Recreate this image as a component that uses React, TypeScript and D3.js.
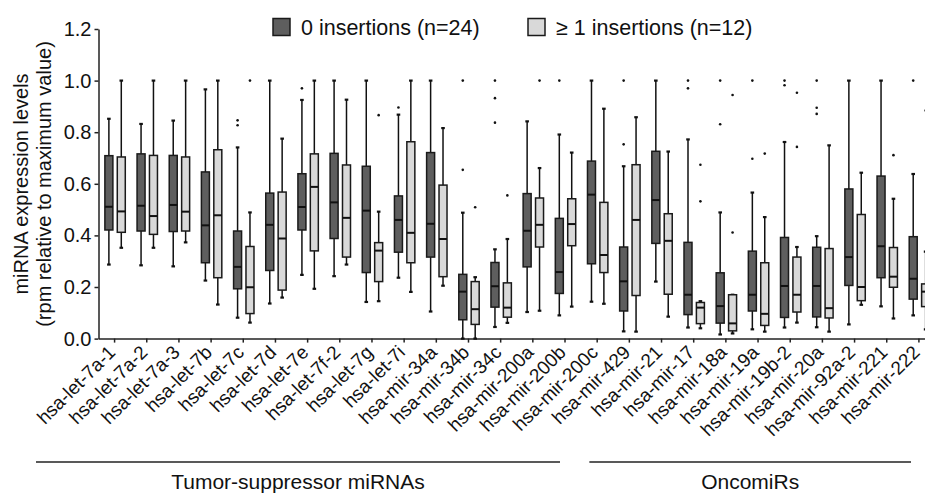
import * as d3 from 'd3';
import { useEffect, useRef } from 'react';

const categories = [
  'hsa-let-7a-1', 'hsa-let-7a-2', 'hsa-let-7a-3', 'hsa-let-7b', 'hsa-let-7c', 'hsa-let-7d',
  'hsa-let-7e', 'hsa-let-7f-2', 'hsa-let-7g', 'hsa-let-7i', 'hsa-mir-34a', 'hsa-mir-34b',
  'hsa-mir-34c', 'hsa-mir-200a', 'hsa-mir-200b', 'hsa-mir-200c', 'hsa-mir-429', 'hsa-mir-21',
  'hsa-mir-17', 'hsa-mir-18a', 'hsa-mir-19a', 'hsa-mir-19b-2', 'hsa-mir-20a', 'hsa-mir-92a-2',
  'hsa-mir-221', 'hsa-mir-222',
];

const yTicks = [0, 0.2, 0.4, 0.6, 0.8, 1.0, 1.2];

// 0 insertions (n=24)
const zeroMin = [0.287, 0.284, 0.280, 0.225, 0.081, 0.136, 0.247, 0.242, 0.142, 0.236, 0.105, 0.0, 0.045, 0.103, 0.090, 0.143, 0.028, 0.221, 0.043, 0.016, 0.036, 0.043, 0.044, 0.055, 0.125, 0.090];
const zeroQ1 = [0.421, 0.417, 0.415, 0.294, 0.193, 0.264, 0.421, 0.388, 0.256, 0.335, 0.316, 0.073, 0.122, 0.278, 0.175, 0.290, 0.107, 0.369, 0.093, 0.060, 0.107, 0.082, 0.084, 0.206, 0.236, 0.153];
const zeroMedian = [0.511, 0.515, 0.518, 0.439, 0.278, 0.441, 0.510, 0.528, 0.496, 0.460, 0.445, 0.182, 0.203, 0.418, 0.258, 0.558, 0.222, 0.537, 0.170, 0.126, 0.170, 0.204, 0.204, 0.316, 0.358, 0.232];
const zeroQ3 = [0.709, 0.716, 0.710, 0.646, 0.417, 0.564, 0.639, 0.718, 0.668, 0.553, 0.721, 0.249, 0.295, 0.562, 0.466, 0.688, 0.355, 0.726, 0.373, 0.255, 0.339, 0.392, 0.354, 0.580, 0.630, 0.395];
const zeroMax = [0.852, 0.832, 0.845, 0.966, 0.741, 1.0, 0.925, 1.0, 1.0, 0.868, 1.0, 0.488, 0.346, 0.842, 0.791, 1.0, 0.668, 1.0, 0.772, 0.489, 0.566, 0.762, 0.397, 1.0, 1.0, 0.638];
const zeroOutliers = [[], [], [], [], [0.846, 0.827], [], [0.970], [], [], [0.896], [], [1.0, 0.654], [1.0, 0.932, 0.837], [], [1.0], [], [1.0, 0.753], [], [1.0, 0.970], [1.0, 0.831], [1.0, 0.697], [1.0, 0.982], [1.0, 0.895, 0.871], [], [], [1.0]];

// >= 1 insertions (n=12)
const oneMin = [0.352, 0.352, 0.373, 0.132, 0.062, 0.159, 0.193, 0.287, 0.145, 0.181, 0.205, 0.0, 0.061, 0.108, 0.124, 0.135, 0.027, 0.085, 0.040, 0.020, 0.027, 0.062, 0.027, 0.131, 0.078, 0.036];
const oneQ1 = [0.412, 0.404, 0.417, 0.236, 0.097, 0.188, 0.340, 0.316, 0.221, 0.294, 0.240, 0.055, 0.083, 0.355, 0.360, 0.256, 0.167, 0.172, 0.058, 0.030, 0.051, 0.103, 0.080, 0.147, 0.199, 0.124];
const oneMedian = [0.493, 0.475, 0.492, 0.478, 0.199, 0.388, 0.588, 0.468, 0.341, 0.410, 0.386, 0.114, 0.120, 0.441, 0.444, 0.324, 0.460, 0.379, 0.120, 0.059, 0.096, 0.170, 0.118, 0.200, 0.240, 0.182];
const oneQ3 = [0.704, 0.710, 0.704, 0.732, 0.357, 0.568, 0.716, 0.673, 0.372, 0.763, 0.595, 0.221, 0.216, 0.545, 0.542, 0.528, 0.674, 0.484, 0.140, 0.170, 0.294, 0.316, 0.349, 0.481, 0.353, 0.212];
const oneMax = [1.0, 1.0, 1.0, 1.0, 0.489, 0.775, 1.0, 0.926, 0.492, 1.0, 0.816, 0.238, 0.386, 0.661, 0.721, 0.891, 0.858, 0.725, 0.145, 0.170, 0.471, 0.355, 0.749, 0.643, 0.542, 0.337];
const oneOutliers = [[], [], [], [], [1.0], [], [], [], [0.866], [], [], [0.509], [0.555], [1.0], [], [], [], [], [0.674, 0.532], [0.944, 0.411], [0.717], [0.953, 0.743], [], [], [0.711], [0.884]];

const groupNames = ['Tumor-suppressor miRNAs', 'OncomiRs'];
const groupFirst = ['hsa-let-7a-1', 'hsa-mir-429'];
const groupLast = ['hsa-mir-200b', 'hsa-mir-222'];

const FONT = 'Arial, "Liberation Sans", sans-serif';

const App = () => {
  const graphRef = useRef<SVGSVGElement>(null);

  useEffect(() => {
    const svg = d3.select(graphRef.current);
    svg.selectAll('*').remove();

    const x0 = 98.5;
    const y0 = 338.6;

    // scales
    const xScale = d3.scaleBand().domain(categories).range([x0, 935]);
    const yScale = d3.scaleLinear().domain([0, 1.2]).range([y0, 29]);
    const step = xScale.bandwidth();
    const center = (c: string) => (xScale(c) as number) + step / 2;

    // axes
    const yAxis = svg.append('g')
      .attr('transform', `translate(${x0}, 0)`)
      .call(d3.axisLeft(yScale).tickValues(yTicks).tickFormat(d3.format('.1f')).tickSize(4).tickSizeOuter(0));
    yAxis.select('.domain').attr('stroke', '#222').attr('stroke-width', 1.5);
    yAxis.selectAll('.tick line').attr('stroke', '#222').attr('stroke-width', 1.5);
    yAxis.selectAll('.tick text')
      .attr('font-family', FONT).attr('font-size', 20).attr('fill', '#111').attr('x', -7);

    const xAxis = svg.append('g')
      .attr('transform', `translate(0, ${y0})`)
      .call(d3.axisBottom(xScale).tickSize(4).tickSizeOuter(0));
    xAxis.select('.domain').attr('stroke', '#222').attr('stroke-width', 1.5);
    xAxis.selectAll('.tick line').attr('stroke', '#222').attr('stroke-width', 1.5);
    xAxis.selectAll('.tick text')
      .attr('font-family', FONT).attr('font-size', 19).attr('fill', '#111')
      .attr('text-anchor', 'end')
      .attr('x', null).attr('y', null).attr('dy', null)
      .attr('transform', 'translate(2, 15) rotate(-45)');

    // boxes
    const series = [
      { min: zeroMin, q1: zeroQ1, med: zeroMedian, q3: zeroQ3, max: zeroMax, out: zeroOutliers, fill: '#5e5e5e', offset: -5.7 },
      { min: oneMin, q1: oneQ1, med: oneMedian, q3: oneQ3, max: oneMax, out: oneOutliers, fill: '#d9d9d9', offset: 6.7 },
    ];
    const boxW = 8;

    series.forEach(s => {
      const g = svg.append('g');
      categories.forEach((c, i) => {
        const cx = center(c) + s.offset;
        // whisker
        g.append('line')
          .attr('x1', cx).attr('x2', cx)
          .attr('y1', yScale(s.min[i])).attr('y2', yScale(s.max[i]))
          .attr('stroke', '#111').attr('stroke-width', 1.5);
        [s.min[i], s.max[i]].forEach(v => {
          g.append('line')
            .attr('x1', cx - 1.8).attr('x2', cx + 1.8)
            .attr('y1', yScale(v)).attr('y2', yScale(v))
            .attr('stroke', '#111').attr('stroke-width', 2.2);
        });
        g.append('rect')
          .attr('x', cx - boxW / 2).attr('width', boxW)
          .attr('y', yScale(s.q3[i])).attr('height', yScale(s.q1[i]) - yScale(s.q3[i]))
          .attr('fill', s.fill).attr('stroke', '#1a1a1a').attr('stroke-width', 1.5);
        g.append('line')
          .attr('x1', cx - boxW / 2).attr('x2', cx + boxW / 2)
          .attr('y1', yScale(s.med[i])).attr('y2', yScale(s.med[i]))
          .attr('stroke', '#111').attr('stroke-width', 2);
        s.out[i].forEach(v => {
          g.append('circle')
            .attr('cx', cx).attr('cy', yScale(v)).attr('r', 1.3).attr('fill', '#111');
        });
      });
    });

    // axis title
    const title = svg.append('text')
      .attr('transform', 'translate(0, 184) rotate(-90)')
      .attr('text-anchor', 'middle')
      .attr('font-family', FONT).attr('font-size', 20).attr('fill', '#111');
    title.append('tspan').attr('x', 0).attr('y', 28).text('miRNA expression levels');
    title.append('tspan').attr('x', 0).attr('y', 51).text('(rpm relative to maximum value)');

    // legend
    const legend = [
      { label: '0 insertions (n=24)', fill: '#5e5e5e', x: 273 },
      { label: '\u2265 1 insertions (n=12)', fill: '#d9d9d9', x: 528 },
    ];
    legend.forEach(l => {
      svg.append('rect').attr('x', l.x).attr('y', 18.5).attr('width', 17).attr('height', 17)
        .attr('fill', l.fill).attr('stroke', '#1a1a1a').attr('stroke-width', 1.5);
      svg.append('text').attr('x', l.x + 28).attr('y', 35)
        .attr('font-family', FONT).attr('font-size', 21.5).attr('fill', '#111').text(l.label);
    });

    // group brackets
    const gx1 = [36, center(groupFirst[1]) - 40];
    const gx2 = [center(groupLast[0]) - 5, 911];
    groupNames.forEach((name, i) => {
      svg.append('line').attr('x1', gx1[i]).attr('x2', gx2[i]).attr('y1', 462).attr('y2', 462)
        .attr('stroke', '#222').attr('stroke-width', 1.5);
      svg.append('text').attr('x', (gx1[i] + gx2[i]) / 2).attr('y', 489)
        .attr('text-anchor', 'middle')
        .attr('font-family', FONT).attr('font-size', 21).attr('fill', '#111').text(name);
    });
  }, []);

  return <svg ref={graphRef} width="925" height="496" style={{ position: 'absolute', left: 0, top: 0 }}></svg>;
};

export default App;
